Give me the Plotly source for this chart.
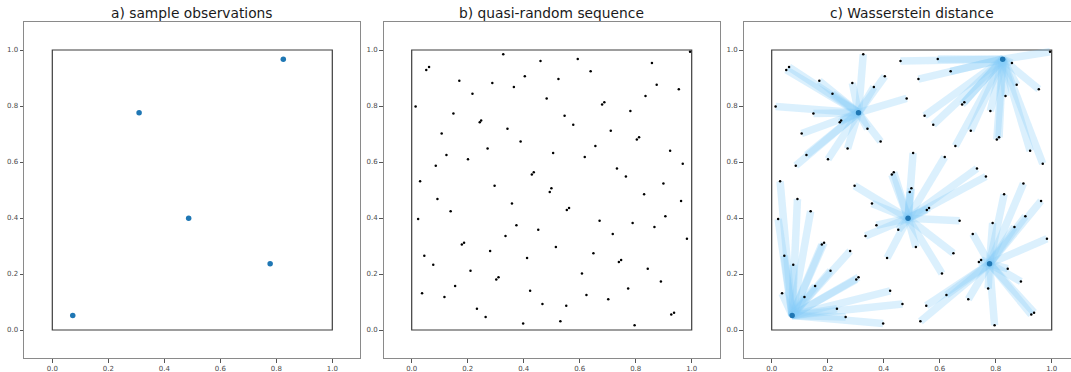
import plotly.graph_objects as go

# Five sample observations (blue points)
sample_x = [0.073, 0.310, 0.487, 0.778, 0.825]
sample_y = [0.052, 0.776, 0.399, 0.237, 0.967]

# 100-point quasi-random sequence, grouped by the sample each point is matched to
grid_x = [
    # matched to sample 1 (upper left)
    0.062, 0.052, 0.170, 0.217, 0.288, 0.327, 0.365, 0.404, 0.482, 0.014,
    0.149, 0.248, 0.243, 0.107, 0.342, 0.389, 0.271, 0.124, 0.201, 0.086,
    # matched to sample 4 (upper right)
    0.460, 0.593, 0.639, 0.524, 0.994, 0.858, 0.875, 0.954, 0.835, 0.688,
    0.680, 0.546, 0.577, 0.781, 0.711, 0.656, 0.812, 0.804, 0.923, 0.968,
    # matched to sample 2 (centre)
    0.505, 0.618, 0.733, 0.765, 0.436, 0.429, 0.296, 0.499, 0.493, 0.358,
    0.562, 0.554, 0.671, 0.374, 0.452, 0.335, 0.515, 0.649, 0.412, 0.608,
    # matched to sample 0 (lower left)
    0.030, 0.023, 0.092, 0.139, 0.045, 0.077, 0.187, 0.179, 0.280, 0.210,
    0.155, 0.310, 0.302, 0.037, 0.117, 0.423, 0.467, 0.233, 0.264, 0.398,
    # matched to sample 3 (lower right)
    0.830, 0.899, 0.962, 0.906, 0.867, 0.789, 0.718, 0.983, 0.748, 0.740,
    0.843, 0.890, 0.773, 0.624, 0.702, 0.552, 0.937, 0.927, 0.531, 0.796,
]
grid_y = [
    0.939, 0.929, 0.890, 0.844, 0.882, 0.985, 0.868, 0.906, 0.827, 0.798,
    0.773, 0.748, 0.742, 0.702, 0.719, 0.673, 0.648, 0.625, 0.610, 0.587,
    0.961, 0.968, 0.924, 0.896, 0.994, 0.954, 0.876, 0.860, 0.836, 0.813,
    0.805, 0.765, 0.733, 0.782, 0.712, 0.657, 0.688, 0.680, 0.640, 0.594,
    0.632, 0.618, 0.577, 0.548, 0.563, 0.555, 0.515, 0.506, 0.493, 0.452,
    0.436, 0.429, 0.390, 0.374, 0.358, 0.336, 0.296, 0.274, 0.257, 0.202,
    0.531, 0.396, 0.468, 0.424, 0.265, 0.233, 0.312, 0.305, 0.282, 0.212,
    0.157, 0.188, 0.180, 0.131, 0.118, 0.140, 0.093, 0.076, 0.046, 0.023,
    0.485, 0.523, 0.461, 0.406, 0.368, 0.382, 0.343, 0.326, 0.250, 0.243,
    0.219, 0.173, 0.148, 0.125, 0.110, 0.087, 0.062, 0.055, 0.031, 0.017,
]
# index into sample_x / sample_y for each grid point
match = [1] * 20 + [4] * 20 + [2] * 20 + [0] * 20 + [3] * 20

titles = ["a) sample observations", "b) quasi-random sequence", "c) Wasserstein distance"]
tick_vals = [0.0, 0.2, 0.4, 0.6, 0.8, 1.0]
tick_text = ["0.0", "0.2", "0.4", "0.6", "0.8", "1.0"]

W, H = 1071, 372
BLUE = "#1f77b4"
TICK_FONT = dict(family="DejaVu Sans", size=7, color="#4a4a4a")

fig = go.Figure()

# panel a: the samples
fig.add_trace(go.Scatter(x=sample_x, y=sample_y, mode="markers",
                         marker=dict(color=BLUE, size=5.5), xaxis="x", yaxis="y",
                         showlegend=False, hoverinfo="skip"))

# panel b: the quasi-random sequence
fig.add_trace(go.Scatter(x=grid_x, y=grid_y, mode="markers",
                         marker=dict(color="black", size=2.5), xaxis="x2", yaxis="y2",
                         showlegend=False, hoverinfo="skip"))

# panel c: transport lines between each sequence point and its matched sample
for gx, gy, m in zip(grid_x, grid_y, match):
    fig.add_trace(go.Scatter(x=[gx, sample_x[m]], y=[gy, sample_y[m]], mode="lines",
                             line=dict(color="rgba(135,206,250,0.30)", width=7.5),
                             xaxis="x3", yaxis="y3", showlegend=False, hoverinfo="skip"))
fig.add_trace(go.Scatter(x=grid_x, y=grid_y, mode="markers",
                         marker=dict(color="black", size=2.5), xaxis="x3", yaxis="y3",
                         showlegend=False, hoverinfo="skip"))
fig.add_trace(go.Scatter(x=sample_x, y=sample_y, mode="markers",
                         marker=dict(color=BLUE, size=5.5), xaxis="x3", yaxis="y3",
                         showlegend=False, hoverinfo="skip"))

# axis geometry in pixels: unit square is 280 px, data range -0.1 .. 1.1
scale = 280.0
zero_px = [52.3, 411.7, 771.7]
y_dom = [14 / H, 350 / H]

axis_common = dict(showgrid=False, zeroline=False, ticks="outside", ticklen=3.5,
                   tickwidth=1, tickcolor="#555555", tickvals=tick_vals, ticktext=tick_text,
                   tickfont=TICK_FONT, showline=True, linecolor="#8a8a8a", linewidth=1.3,
                   fixedrange=True)

layout = dict(width=W, height=H, margin=dict(l=0, r=0, t=0, b=0),
              paper_bgcolor="white", plot_bgcolor="white", showlegend=False)

shapes = []
annotations = []
for i, z in enumerate(zero_px):
    left = z - 0.1 * scale
    right = min(z + 1.1 * scale, W)
    xmax = (right - z) / scale
    suffix = "" if i == 0 else str(i + 1)
    layout["xaxis" + suffix] = dict(axis_common, domain=[left / W, right / W],
                                    range=[-0.1, xmax], anchor="y" + suffix, mirror=True)
    # the last panel runs off the right edge, so it has no right-hand spine
    layout["yaxis" + suffix] = dict(axis_common, domain=y_dom, range=[-0.1, 1.1],
                                    anchor="x" + suffix, mirror=(i < 2))
    # the unit square outline
    shapes.append(dict(type="rect", xref="x" + suffix, yref="y" + suffix,
                       x0=0, y0=0, x1=1, y1=1, line=dict(color="#3c3c3c", width=1.2),
                       layer="below"))
    annotations.append(dict(text=titles[i], xref="paper", yref="paper",
                            x=(z + 0.5 * scale) / W, y=(H - 13) / H,
                            xanchor="center", yanchor="middle", showarrow=False,
                            font=dict(family="DejaVu Sans", size=13.8, color="#1a1a1a")))

layout["shapes"] = shapes
layout["annotations"] = annotations
fig.update_layout(**layout)

fig.write_html("out.html")
